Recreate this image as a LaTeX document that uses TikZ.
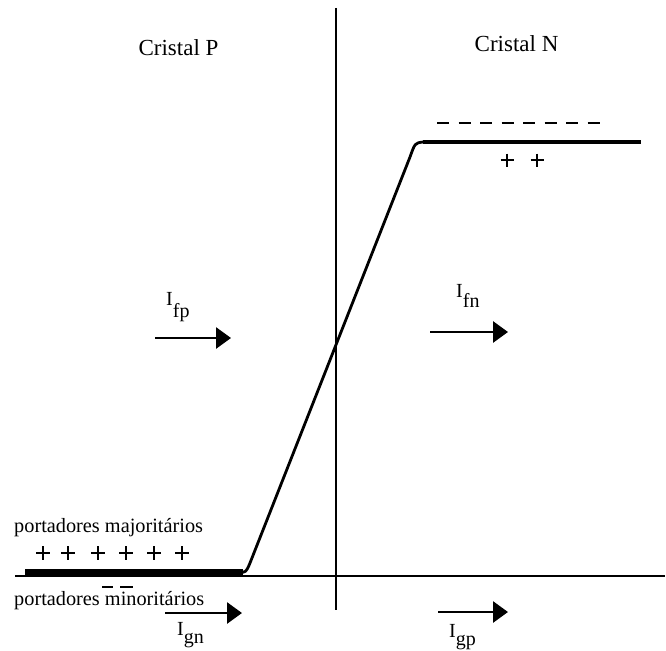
\documentclass[tikz,border=0pt]{standalone}
\usepackage{fontspec}
\setmainfont{Liberation Serif}
\usetikzlibrary{arrows.meta}
\begin{document}
\begin{tikzpicture}[x=1pt,y=-1pt,
  axisline/.style={line width=2.8pt},
  curveline/.style={line width=2.8pt},
  flowarrow/.style={line width=2.8pt,-{Triangle[length=15pt,width=21pt]}},
  charge/.style={line width=1.6pt},
  title/.style={font=\fontsize{23}{26}\selectfont,inner sep=0pt,anchor=base},
  carrier/.style={font=\fontsize{20.3}{22}\selectfont,inner sep=0pt,anchor=base west},
  current/.style={font=\fontsize{20}{22}\selectfont,inner sep=0pt,anchor=base west}]
\useasboundingbox (0,0) rectangle (666,650);
\fill[white] (0,0) rectangle (666,650);

% axes
\coordinate (vtop) at (336,8);
\coordinate (vbot) at (336,610);
\coordinate (hleft) at (15,576);
\coordinate (hright) at (665,576);
\draw[axisline] (vtop) -- (vbot);
\draw[axisline] (hleft) -- (hright);

% potential curve
\coordinate (c0) at (25,572);
\coordinate (c1) at (243,572);
\coordinate (c2) at (250,563);
\coordinate (c3) at (410,157);
\coordinate (c4) at (423,142);
\coordinate (c5) at (641,142);
\draw[line width=5.5pt] (c0) -- (c1);
\draw[curveline,line join=round] (238,572.5) .. controls (246,572.5) .. (c2) -- (c3) .. controls (415,143) .. (c4);
\draw[line width=3.6pt] (c4) -- (c5);

% titles
\node[title] (cp) at (178.5,56) {Cristal P};
\node[title] (cn) at (516.5,52) {Cristal N};

% charges on N side
\foreach \i in {0,...,7}{
  \draw[charge] ({437+\i*21.5},123) -- ({449+\i*21.5},123);
}
\foreach \x in {507,537}{
  \draw[charge] (\x-6.5,160) -- (\x+6.5,160);
  \draw[charge] (\x,153.5) -- (\x,166.5);
}

% carriers on P side
\node[carrier] (maj) at (14,532) {portadores majoritários};
\node[carrier] (min) at (14,605) {portadores minoritários};
\foreach \x in {43,68,98,126,154,182}{
  \draw[charge] (\x-7,553) -- (\x+7,553);
  \draw[charge] (\x,546) -- (\x,560);
}
\draw[charge] (102,587) -- (113,587);
\draw[charge] (120,587) -- (133,587);

% currents
\coordinate (fpA) at (155,338);
\coordinate (fpB) at (231,338);
\draw[flowarrow] (fpA) -- (fpB);
\node[current] (ifp) at (166,305) {I\raisebox{-12pt}{fp}};

\coordinate (fnA) at (430,332);
\coordinate (fnB) at (508,332);
\draw[flowarrow] (fnA) -- (fnB);
\node[current] (ifn) at (456,297) {I\raisebox{-10pt}{fn}};

\coordinate (gnA) at (165,613);
\coordinate (gnB) at (242,613);
\draw[flowarrow] (gnA) -- (gnB);
\node[current] (ign) at (177,635) {I\raisebox{-8pt}{gn}};

\coordinate (gpA) at (438,612);
\coordinate (gpB) at (508,612);
\draw[flowarrow] (gpA) -- (gpB);
\node[current] (igp) at (449,637) {I\raisebox{-8pt}{gp}};
\end{tikzpicture}
\end{document}
